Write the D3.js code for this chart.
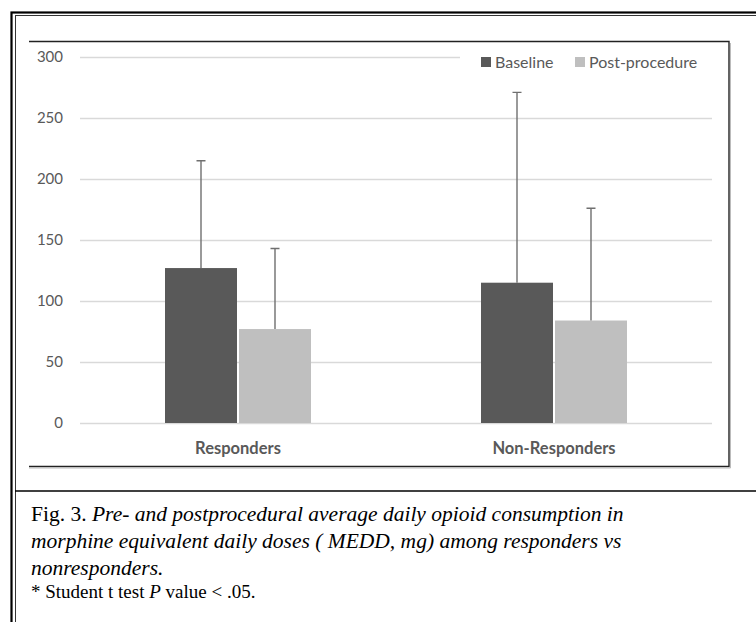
<!DOCTYPE html>
<html>
<head>
<meta charset="utf-8">
<script src="https://cdn.jsdelivr.net/npm/d3@7"></script>
<style>
  body { margin: 0; background: #fff; }
  svg { display: block; }
  .tick text { font-family: Lato, "Open Sans", sans-serif; }
</style>
</head>
<body>
<div id="chart"></div>
<script>
const categories = ['Responders', 'Non-Responders'];
const seriesNames = ['Baseline', 'Post-procedure'];
const baselineMeans = [127, 115];
const baselineSD = [88, 156];
const postMeans = [77, 84];
const postSD = [66, 92];
const yTicks = [0, 50, 100, 150, 200, 250, 300];

const colors = {'Baseline': '#595959', 'Post-procedure': '#bfbfbf'};
const textColor = '#595959';

function drawChart() {
    const W = 756, H = 622;
    const svg = d3.select('#chart').append('svg')
        .attr('width', W)
        .attr('height', H);

    // outer double frame (page border)
    svg.append('rect')
        .attr('x', 11.5).attr('y', 12.5)
        .attr('width', W + 20).attr('height', H + 20)
        .attr('fill', 'none').attr('stroke', '#000').attr('stroke-width', 2.2);
    svg.append('rect')
        .attr('x', 15.5).attr('y', 15.5)
        .attr('width', W + 20).attr('height', H + 20)
        .attr('fill', 'none').attr('stroke', '#333').attr('stroke-width', 1);

    // caption separator
    svg.append('line')
        .attr('x1', 15).attr('x2', W).attr('y1', 491).attr('y2', 491)
        .attr('stroke', '#000').attr('stroke-width', 1.5);

    // chart box: top, right, bottom
    svg.append('path')
        .attr('d', 'M29,41.5 H729 V466.5 H29')
        .attr('fill', 'none').attr('stroke', '#222').attr('stroke-width', 1.4);
    svg.append('path')
        .attr('d', 'M730.5,43 V468 H29')
        .attr('fill', 'none').attr('stroke', '#bbb').attr('stroke-width', 1);

    const plot = {left: 80, right: 712, top: 57, bottom: 423};

    const y = d3.scaleLinear()
        .domain([0, 300])
        .range([plot.bottom, plot.top]);

    const x0 = d3.scaleBand()
        .domain(categories)
        .range([plot.left, plot.right]);

    const bw = x0.bandwidth();
    const x1 = d3.scaleBand()
        .domain(seriesNames)
        .range([bw * 0.269, bw * 0.731])
        .paddingInner(0.027);

    // gridlines + labels
    const yAxis = svg.append('g')
        .attr('transform', `translate(${plot.left}, 0)`)
        .call(d3.axisLeft(y).tickValues(yTicks).tickSize(0).tickPadding(17));
    yAxis.select('.domain').remove();
    yAxis.selectAll('.tick text')
        .attr('fill', textColor)
        .style('font-size', '15px');
    yAxis.selectAll('.tick').append('line')
        .attr('x1', 0)
        .attr('x2', d => d === 300 ? 380 : plot.right - plot.left)
        .attr('stroke', '#d9d9d9')
        .attr('stroke-width', 1.3);

    const data = categories.map((c, i) => ({
        category: c,
        values: [
            {series: 'Baseline', mean: baselineMeans[i], sd: baselineSD[i]},
            {series: 'Post-procedure', mean: postMeans[i], sd: postSD[i]}
        ]
    }));

    const groups = svg.selectAll('.group')
        .data(data)
        .enter().append('g')
        .attr('class', 'group')
        .attr('transform', d => `translate(${x0(d.category)}, 0)`);

    groups.selectAll('rect')
        .data(d => d.values)
        .enter().append('rect')
        .attr('x', d => x1(d.series))
        .attr('y', d => y(d.mean))
        .attr('width', x1.bandwidth())
        .attr('height', d => y(0) - y(d.mean))
        .attr('fill', d => colors[d.series]);

    // one-sided error bars
    const capW = 9;
    groups.selectAll('.err')
        .data(d => d.values)
        .enter().append('path')
        .attr('class', 'err')
        .attr('d', d => {
            const cx = x1(d.series) + x1.bandwidth() / 2;
            const yt = y(d.mean + d.sd);
            return `M${cx},${y(d.mean)} V${yt} M${cx - capW / 2},${yt} H${cx + capW / 2}`;
        })
        .attr('fill', 'none')
        .attr('stroke', '#6f6f6f')
        .attr('stroke-width', 1.4);

    // category labels
    svg.selectAll('.cat')
        .data(categories)
        .enter().append('text')
        .attr('class', 'cat')
        .attr('x', d => x0(d) + bw / 2)
        .attr('y', 454)
        .attr('text-anchor', 'middle')
        .attr('fill', textColor)
        .style('font-family', 'Lato, "Open Sans", sans-serif')
        .style('font-size', '16.5px')
        .style('font-weight', 'bold')
        .text(d => d);

    // legend
    const legendX = [481, 575];
    const legend = svg.selectAll('.legend')
        .data(seriesNames)
        .enter().append('g')
        .attr('class', 'legend')
        .attr('transform', (d, i) => `translate(${legendX[i]}, 62)`);
    legend.append('rect')
        .attr('x', 0).attr('y', -5)
        .attr('width', 10).attr('height', 10)
        .attr('fill', d => colors[d]);
    legend.append('text')
        .attr('x', 14).attr('y', 5.5)
        .attr('fill', textColor)
        .style('font-family', 'Lato, "Open Sans", sans-serif')
        .style('font-size', '16px')
        .text(d => d);

    // caption
    const cap = svg.append('text')
        .attr('x', 31)
        .style('font-family', '"Liberation Serif", serif')
        .style('font-size', '21.5px')
        .attr('fill', '#000');
    const l1 = cap.append('tspan').attr('x', 31).attr('y', 521);
    l1.append('tspan').text('Fig. 3. ');
    l1.append('tspan').style('font-style', 'italic')
        .text('Pre- and postprocedural average daily opioid consumption in');
    cap.append('tspan').attr('x', 31).attr('y', 548).style('font-style', 'italic')
        .text('morphine equivalent daily doses ( MEDD, mg) among responders vs');
    cap.append('tspan').attr('x', 31).attr('y', 575).style('font-style', 'italic')
        .text('nonresponders.');
    const l4 = svg.append('text')
        .attr('x', 31).attr('y', 598)
        .style('font-family', '"Liberation Serif", serif')
        .style('font-size', '19px')
        .attr('fill', '#000');
    l4.append('tspan').text('* Student t test ');
    l4.append('tspan').style('font-style', 'italic').text('P');
    l4.append('tspan').text(' value < .05.');
}

drawChart();
</script>
</body>
</html>
